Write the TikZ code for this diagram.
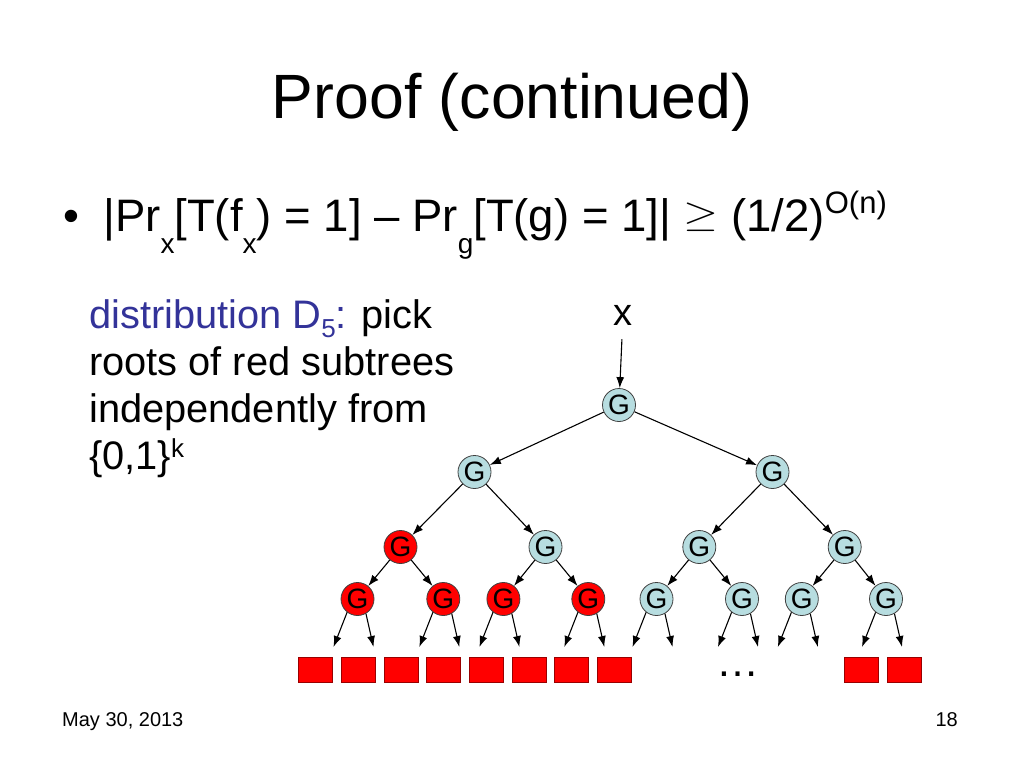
\documentclass[tikz,border=0pt]{standalone}
\usepackage{graphicx}
\usepackage{fontspec}
\setmainfont{Liberation Sans}
\usetikzlibrary{arrows.meta}
\definecolor{gfill}{RGB}{183,221,224}
\definecolor{dblue}{RGB}{51,51,153}
\definecolor{redfill}{RGB}{255,0,0}
\newcommand\psub[1]{\raisebox{-22pt}{\fontsize{28}{28}\selectfont #1}}
\newcommand\psup[1]{\raisebox{18pt}{\fontsize{31}{31}\selectfont #1}}
\newcommand\lsub[1]{\raisebox{-9pt}{\fontsize{26}{26}\selectfont #1}}
\newcommand\lsup[1]{\raisebox{12pt}{\fontsize{26}{26}\selectfont #1}}
\newcommand\biggeq{\raisebox{5pt}{\scalebox{4.5}[3.7]{\fontsize{10}{10}\selectfont$\geq$}}}
\begin{document}
\begin{tikzpicture}[x=1pt,y=-1pt,
  gnode/.style={circle,draw=black!75,line width=0.8pt,fill=gfill,minimum size=33pt,inner sep=0pt,font=\fontsize{28}{28}\selectfont},
  rnode/.style={gnode,fill=redfill},
  leafbox/.style={rectangle,draw=red!60!black,line width=0.6pt,fill=redfill,minimum width=34pt,minimum height=25pt,inner sep=0pt},
  arr/.style={-{Latex[length=11pt,width=8pt]},line width=1.1pt},
  txt/.style={anchor=base west,inner sep=0pt,font=\fontsize{39.8}{46}\selectfont}]
\useasboundingbox (0,0) rectangle (1024,768);
% title
\node[anchor=base,inner sep=0pt,font=\fontsize{62.6}{70}\selectfont] (title) at (512,118) {Proof (continued)};
% bullet line
\node[anchor=base,inner sep=0pt,font=\fontsize{45.5}{50}\selectfont] (bullet) at (71,231) {•};
\node[anchor=base west,inner sep=0pt,font=\fontsize{45.5}{50}\selectfont] (formula) at (103,231)
  {|Pr\psub{x}[T(f\psub{x}) = 1] – Pr\psub{g}[T(g) = 1]| \biggeq{} (1/2)\psup{O(n)}};
% left text
\node[txt] (l1) at (89,328) {\textcolor{dblue}{distribution D\lsub{5}:} pick};
\node[txt] (l2) at (89,375) {roots of red subtrees};
\node[txt] (l3) at (89,422) {independently from};
\node[txt] (l4) at (89,469) {\{0,1\}\lsup{k}};
% tree
\node[inner sep=0pt,font=\fontsize{38}{38}\selectfont] (x) at (623,315) {x};
\node[gnode] (r) at (619,405) {G};
\node[gnode] (a1) at (474.5,472) {G};
\node[gnode] (a2) at (772.5,472) {G};
\node[rnode] (b1) at (400.5,547) {G};
\node[gnode] (b2) at (545.5,547) {G};
\node[gnode] (b3) at (699.3,547) {G};
\node[gnode] (b4) at (844.7,547) {G};
\node[rnode] (c1) at (357.5,599) {G};
\node[rnode] (c2) at (443.3,599) {G};
\node[rnode] (c3) at (503.4,599) {G};
\node[rnode] (c4) at (588.3,599) {G};
\node[gnode] (c5) at (656.5,599) {G};
\node[gnode] (c6) at (742,599) {G};
\node[gnode] (c7) at (801.8,599) {G};
\node[gnode] (c8) at (886,599) {G};
\draw[arr,shorten <=14pt] (x) -- (r);
\draw[arr] (r) -- (a1);
\draw[arr] (r) -- (a2);
\draw[arr] (a1) -- (b1);
\draw[arr] (a1) -- (b2);
\draw[arr] (a2) -- (b3);
\draw[arr] (a2) -- (b4);
\draw[arr] (b1) -- (c1);
\draw[arr] (b1) -- (c2);
\draw[arr] (b2) -- (c3);
\draw[arr] (b2) -- (c4);
\draw[arr] (b3) -- (c5);
\draw[arr] (b3) -- (c6);
\draw[arr] (b4) -- (c7);
\draw[arr] (b4) -- (c8);
% leaf arrows
\foreach \n/\xx in {c1/357.5,c2/443.3,c3/503.4,c4/588.3,c5/656.5,c6/742,c7/801.8,c8/886}{
  \coordinate (\n L) at (\xx-24,647);
  \coordinate (\n R) at (\xx+16,647);
  \draw[arr] (\n.232) -- (\n L);
  \draw[arr] (\n.300) -- (\n R);
}
% leaves
\node[leafbox] (s1) at (315.5,670) {};
\node[leafbox] (s2) at (358.2,670) {};
\node[leafbox] (s3) at (400.8,670) {};
\node[leafbox] (s4) at (443.5,670) {};
\node[leafbox] (s5) at (486.2,670) {};
\node[leafbox] (s6) at (528.8,670) {};
\node[leafbox] (s7) at (571.5,670) {};
\node[leafbox] (s8) at (614.2,670) {};
\node[leafbox] (s9) at (861.3,670) {};
\node[leafbox] (s10) at (904,670) {};
\node[anchor=base,inner sep=0pt,font=\fontsize{43}{43}\selectfont] (dots) at (738,676) {…};
% footer
\node[anchor=base west,inner sep=0pt,font=\fontsize{20}{20}\selectfont] (date) at (62,726) {May 30, 2013};
\node[anchor=base east,inner sep=0pt,font=\fontsize{20}{20}\selectfont] (page) at (958,726) {18};
\end{tikzpicture}
\end{document}
